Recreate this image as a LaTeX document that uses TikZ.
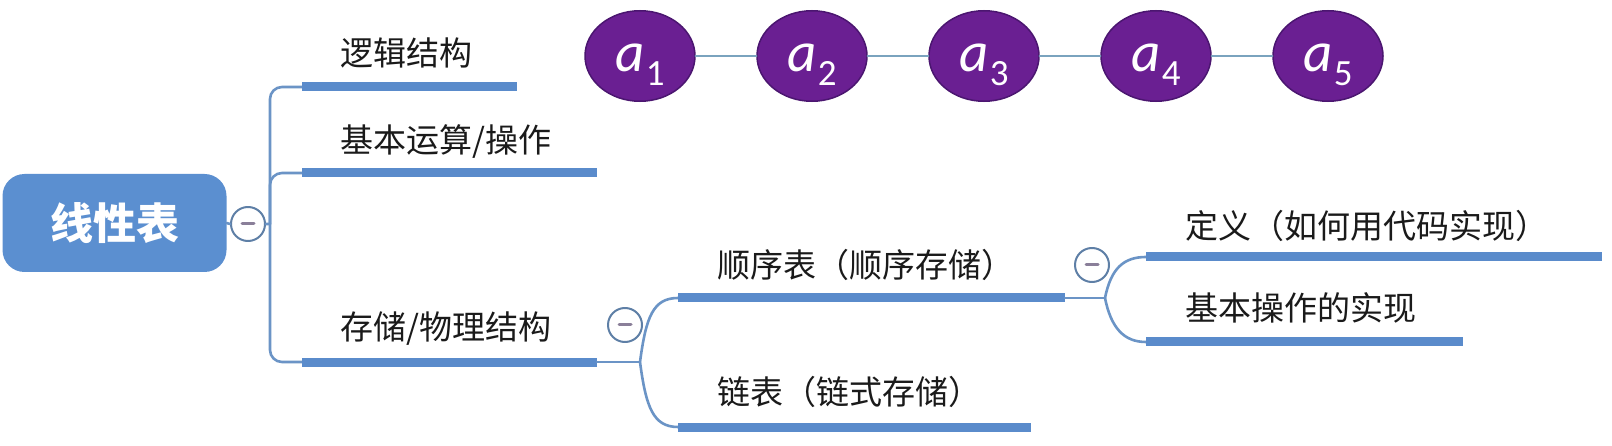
\documentclass[tikz,border=0pt]{standalone}
\usepackage{fontspec}
\setmainfont{Noto Sans CJK SC}
\newfontfamily\calib{Carlito}
\usetikzlibrary{shapes.geometric,calc}
\definecolor{mapBlue}{HTML}{5A8BCB}
\definecolor{mapBox}{HTML}{5B8FD0}
\definecolor{mapLine}{HTML}{6B94C6}
\definecolor{mapPurple}{HTML}{6A1F92}
\definecolor{mapPurpleDark}{HTML}{4B1670}
\definecolor{mapLink}{HTML}{7AA3BE}
\definecolor{mapInk}{HTML}{1A1A1A}
\definecolor{mapKnob}{HTML}{5E7FA6}
\definecolor{mapDash}{HTML}{8A7F99}
\newcommand\elemtext[1]{{\calib\fontsize{57}{57}\selectfont\itshape a}\kern1pt\raisebox{-14pt}{\calib\fontsize{37}{37}\selectfont #1}}

\begin{document}
\begin{tikzpicture}[x=1pt,y=-1pt,line cap=round,line join=round]
\path[fill=white] (0,0) rectangle (1612,446);
\tikzset{label/.style={anchor=west,inner sep=0pt,text=mapInk,font=\fontsize{33}{33}\selectfont},
  bar/.style={draw=mapBlue,line width=9pt,line cap=butt},
  twig/.style={draw=mapLine,line width=2.6pt},
  knob/.style={circle,draw=mapKnob,fill=white,line width=2pt,minimum size=34pt,inner sep=0pt,
    path picture={\draw[mapDash,line width=3pt] (path picture bounding box.center) +(-6pt,0) -- +(6pt,0);}},
  elem/.style={ellipse,draw=mapPurpleDark,fill=mapPurple,line width=1.5pt,minimum width=110pt,minimum height=72pt,
    inner sep=0pt,text=white,text height=48pt,text depth=16pt},
  link/.style={draw=mapLink,line width=2.6pt}}
% root
\node[rectangle,rounded corners=22pt,fill=mapBox,minimum width=224pt,minimum height=98pt,text=white,
  font=\fontsize{43}{43}\selectfont\bfseries] (root) at (114.5,223) {线性表};
\node[knob] (k0) at (248,224) {};
\coordinate (hub) at (270,224);
% first level
\node[label] (logic) at (340,53) {逻辑结构};
\node[label] (ops) at (340,142) {基本运算/操作};
\node[label] (store) at (340,329) {存储/物理结构};
\coordinate (bar1s) at (302,87); \coordinate (bar1e) at (517,87);
\coordinate (bar2s) at (302,173); \coordinate (bar2e) at (597,173);
\coordinate (bar3s) at (302,362); \coordinate (bar3e) at (597,362);
\draw[twig] (root.east) -- (k0.west) (k0.east) -- (hub);
\draw[twig,rounded corners=12pt] (bar1s) -| (hub) |- (bar3s);
\draw[twig,rounded corners=12pt] (hub) |- (bar2s);
\draw[bar] (bar1s) -- (bar1e); \draw[bar] (bar2s) -- (bar2e); \draw[bar] (bar3s) -- (bar3e);
% elements a1..a5
\foreach \i/\x in {1/640,2/812,3/984,4/1156,5/1328}
  \node[elem] (e\i) at (\x,56) {\elemtext{\i}};
\foreach \i/\j in {1/2,2/3,3/4,4/5}
  \draw[link] (e\i) -- (e\j);
% second level
\node[knob] (k1) at (625,325) {};
\coordinate (b1) at (640,362);
\node[label] (seq) at (717,265) {顺序表（顺序存储）};
\node[label] (chain) at (717,392) {链表（链式存储）};
\coordinate (bar4s) at (678,298); \coordinate (bar4e) at (1065,298);
\coordinate (bar5s) at (678,427); \coordinate (bar5e) at (1031,427);
\draw[twig] (bar3e) -- (b1);
\draw[twig] (b1) .. controls +(6,-45) and +(-25,0) .. (bar4s);
\draw[twig] (b1) .. controls +(6,45) and +(-25,0) .. (bar5s);
\draw[bar] (bar4s) -- (bar4e); \draw[bar] (bar5s) -- (bar5e);
% third level
\node[knob] (k2) at (1092,265) {};
\coordinate (b2) at (1105,298);
\node[label] (define) at (1185,226) {定义（如何用代码实现）};
\node[label] (impl) at (1185,308) {基本操作的实现};
\coordinate (bar6s) at (1146,257); \coordinate (bar6e) at (1602,257);
\coordinate (bar7s) at (1146,342); \coordinate (bar7e) at (1463,342);
\draw[twig] (bar4e) -- (b2);
\draw[twig] (b2) .. controls +(6,-30) and +(-22,0) .. (bar6s);
\draw[twig] (b2) .. controls +(6,30) and +(-22,0) .. (bar7s);
\draw[bar] (bar6s) -- (bar6e); \draw[bar] (bar7s) -- (bar7e);
\end{tikzpicture}
\end{document}
